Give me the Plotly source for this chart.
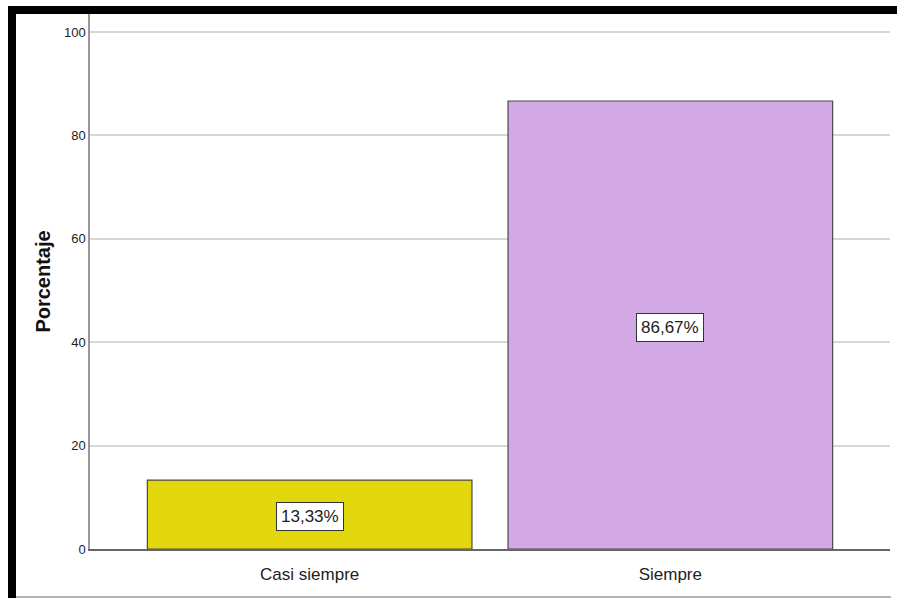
import plotly.graph_objects as go

categories = ["Casi siempre", "Siempre"]
percentages = [13.33, 86.67]
bar_colors = ["#E2D70D", "#D2A9E5"]
y_ticks = [0, 20, 40, 60, 80, 100]

labels = [f"{v:.2f}".replace(".", ",") + "%" for v in percentages]

NARROW = "Liberation Sans Narrow, Arial Narrow, Liberation Sans, Arial"

fig = go.Figure()
fig.add_trace(go.Bar(
    x=categories,
    y=percentages,
    width=0.9,
    marker=dict(color=bar_colors, line=dict(color="#4a4a4a", width=1.2)),
    hoverinfo="x+y",
))

# boxed value labels at the middle of each bar
for cat, val, txt in zip(categories, percentages, labels):
    fig.add_annotation(
        x=cat, y=val / 2, yshift=-2, text=txt, showarrow=False,
        font=dict(family=NARROW, size=17, color="#222"),
        bgcolor="white", bordercolor="#333", borderwidth=1, borderpad=4,
    )

# frame: thick black bands at top and left, thin gray line at bottom
W, L, T, H = 800.0, 90.0, 14.0, 535.0
def px(x):
    return (x - L) / W
def py(y):
    return (T + H - y) / H

fig.add_shape(type="rect", xref="paper", yref="paper",
              x0=px(8), x1=px(897), y0=py(14), y1=py(6),
              fillcolor="black", line_width=0, layer="above")
fig.add_shape(type="rect", xref="paper", yref="paper",
              x0=px(8), x1=px(16), y0=py(598), y1=py(6),
              fillcolor="black", line_width=0, layer="above")
fig.add_shape(type="line", xref="paper", yref="paper",
              x0=px(16), x1=px(891), y0=py(597), y1=py(597),
              line=dict(color="#999", width=1.5))

fig.update_layout(
    width=897, height=598,
    margin=dict(l=90, r=7, t=14, b=49),
    paper_bgcolor="white", plot_bgcolor="white",
    showlegend=False,
    font=dict(family="Liberation Sans, Arial", color="#222"),
    xaxis=dict(
        type="category", range=[-0.609, 1.609],
        showgrid=False, showline=True, linecolor="#666", linewidth=1.5,
        ticks="", ticklabelstandoff=9,
        tickfont=dict(family=NARROW, size=17, color="#222"),
    ),
    yaxis=dict(
        range=[0, 103.5], tickvals=y_ticks,
        showgrid=True, gridcolor="#d6d6d6", gridwidth=2,
        showline=True, linecolor="#999", linewidth=1.5,
        zeroline=False, ticks="", ticklen=0,
        tickfont=dict(family=NARROW, size=13, color="#222"),
        title=dict(text="<b>Porcentaje</b>", font=dict(family="Liberation Sans, Arial", size=20, color="#111"), standoff=8),
    ),
)

fig.write_html("out.html")
